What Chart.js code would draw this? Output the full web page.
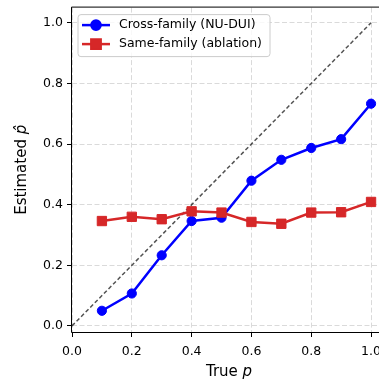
<!DOCTYPE html>
<html>
<head>
<meta charset="utf-8">
<script src="https://cdn.jsdelivr.net/npm/chart.js@4.4.0/dist/chart.umd.min.js"></script>
<style>
  html, body { margin: 0; padding: 0; background: #fff; overflow: hidden; }
  #wrap { position: absolute; left: 0; top: 0; width: 400px; height: 384px; }
</style>
</head>
<body>
<div id="wrap"><canvas id="chart" width="400" height="384"></canvas></div>
<script>
// True p on the x axis
const trueP = [0.1, 0.2, 0.3, 0.4, 0.5, 0.6, 0.7, 0.8, 0.9, 1.0];
// Estimated p-hat per model
const crossFamily = [0.05, 0.107, 0.233, 0.346, 0.357, 0.479, 0.548, 0.587, 0.616, 0.733];
const sameFamily = [0.346, 0.36, 0.352, 0.378, 0.374, 0.343, 0.337, 0.374, 0.375, 0.409];
// y = x reference
const idealX = [0, 1];
const idealY = [0, 1];
// Axis ticks
const xTicks = [0, 0.2, 0.4, 0.6, 0.8, 1.0];
const yTicks = [0, 0.2, 0.4, 0.6, 0.8, 1.0];
const seriesLabels = ['Cross-family (NU-DUI)', 'Same-family (ablation)'];

const FONT = 'DejaVu Sans';
Chart.defaults.font.family = FONT;

const toPoints = (xs, ys) => xs.map((x, i) => ({ x: x, y: ys[i] }));

// frame, axis titles and legend box (matplotlib style)
const extras = {
    id: 'extras',
    afterDraw(chart) {
        const ctx = chart.ctx;
        const a = chart.chartArea;
        ctx.save();

        // spines
        ctx.strokeStyle = '#000';
        ctx.lineWidth = 1;
        ctx.beginPath();
        ctx.moveTo(a.left - 0.5, a.bottom + 0.5);
        ctx.lineTo(a.left - 0.5, a.top - 0.5);
        ctx.lineTo(a.right + 0.5, a.top - 0.5);
        ctx.lineTo(a.right + 0.5, a.bottom + 0.5);
        ctx.closePath();
        ctx.stroke();

        // x title: True p
        ctx.fillStyle = '#000';
        ctx.textBaseline = 'alphabetic';
        ctx.textAlign = 'left';
        ctx.font = '15px ' + FONT;
        const w1 = ctx.measureText('True ').width;
        ctx.font = 'italic 15px ' + FONT;
        const w2 = ctx.measureText('p').width;
        let x = (a.left + a.right) / 2 - (w1 + w2) / 2;
        ctx.font = '15px ' + FONT;
        ctx.fillText('True ', x, 376);
        ctx.font = 'italic 15px ' + FONT;
        ctx.fillText('p', x + w1, 376);

        // y title: Estimated p-hat
        ctx.save();
        ctx.translate(25.5, (a.top + a.bottom) / 2);
        ctx.rotate(-Math.PI / 2);
        ctx.font = '15px ' + FONT;
        const w3 = ctx.measureText('Estimated ').width;
        ctx.font = 'italic 15px ' + FONT;
        const w4 = ctx.measureText('p').width;
        x = -(w3 + w4) / 2;
        ctx.font = '15px ' + FONT;
        ctx.fillText('Estimated ', x, 0);
        ctx.font = 'italic 15px ' + FONT;
        ctx.fillText('p\u0302', x + w3, 0);
        ctx.restore();

        // legend
        const lx = a.left + 6, ly = a.top + 7, lw = 192, lh = 42, r = 3;
        ctx.beginPath();
        ctx.moveTo(lx + r, ly);
        ctx.arcTo(lx + lw, ly, lx + lw, ly + lh, r);
        ctx.arcTo(lx + lw, ly + lh, lx, ly + lh, r);
        ctx.arcTo(lx, ly + lh, lx, ly, r);
        ctx.arcTo(lx, ly, lx + lw, ly, r);
        ctx.closePath();
        ctx.fillStyle = 'rgba(255,255,255,0.8)';
        ctx.fill();
        ctx.strokeStyle = '#cccccc';
        ctx.lineWidth = 1;
        ctx.stroke();

        ctx.font = '12.5px ' + FONT;
        ctx.textBaseline = 'middle';
        let row = 0;
        chart.data.datasets.forEach(ds => {
            if (!ds.label) return;
            const cy = ly + 10.5 + row * 19;
            ctx.strokeStyle = ds.borderColor;
            ctx.lineWidth = ds.borderWidth;
            ctx.beginPath();
            ctx.moveTo(lx + 4, cy);
            ctx.lineTo(lx + 32, cy);
            ctx.stroke();
            Chart.helpers.drawPoint(ctx, {
                pointStyle: ds.pointStyle,
                radius: ds.pointRadius,
                borderWidth: ds.pointBorderWidth,
                rotation: 0
            }, lx + 18, cy);
            ctx.fillStyle = ds.backgroundColor;
            ctx.fill();
            ctx.fillStyle = '#000';
            ctx.fillText(ds.label, lx + 41, cy);
            row++;
        });
        ctx.restore();
    }
};

const tickFont = { family: FONT, size: 12.5 };

new Chart(document.getElementById('chart'), {
    type: 'line',
    data: {
        datasets: [
            {
                label: seriesLabels[0],
                data: toPoints(trueP, crossFamily),
                borderColor: '#0000ff',
                backgroundColor: '#0000ff',
                borderWidth: 2.5,
                pointStyle: 'circle',
                pointRadius: 4.6,
                pointHoverRadius: 4.6,
                pointBorderWidth: 1,
                order: 1
            },
            {
                label: seriesLabels[1],
                data: toPoints(trueP, sameFamily),
                borderColor: '#d62728',
                backgroundColor: '#d62728',
                borderWidth: 2.5,
                pointStyle: 'rect',
                pointRadius: 6.6,
                pointHoverRadius: 6.6,
                pointBorderWidth: 1,
                order: 0
            },
            {
                label: '',
                data: toPoints(idealX, idealY),
                borderColor: 'rgba(0,0,0,0.68)',
                borderWidth: 1.5,
                borderDash: [4, 2.5],
                pointRadius: 0,
                order: 2
            }
        ]
    },
    options: {
        responsive: false,
        animation: false,
        devicePixelRatio: 1,
        layout: { padding: { left: 0, right: 14, top: 5, bottom: 0 } },
        plugins: {
            legend: { display: false },
            tooltip: { enabled: false }
        },
        scales: {
            x: {
                type: 'linear',
                min: 0,
                max: 1.05,
                afterBuildTicks: s => { s.ticks = xTicks.map(v => ({ value: v })); },
                afterFit: s => { s.height = 52; s.paddingLeft = 0; s.paddingRight = 0; },
                grid: { color: '#dadada', lineWidth: 1, tickLength: 5, tickColor: '#000', tickBorderDash: [] },
                border: { display: false, dash: [5, 2.5] },
                ticks: { color: '#000', font: tickFont, padding: 7, maxRotation: 0, autoSkip: false, callback: v => v.toFixed(1) }
            },
            y: {
                type: 'linear',
                min: -0.02,
                max: 1.05,
                afterBuildTicks: s => { s.ticks = yTicks.map(v => ({ value: v })); },
                afterFit: s => { s.width = 72; s.paddingTop = 0; s.paddingBottom = 0; },
                grid: { color: '#dadada', lineWidth: 1, tickLength: 5, tickColor: '#000', tickBorderDash: [] },
                border: { display: false, dash: [5, 2.5] },
                ticks: { color: '#000', font: tickFont, padding: 4, autoSkip: false, callback: v => v.toFixed(1) }
            }
        }
    },
    plugins: [extras]
});
</script>
</body>
</html>
